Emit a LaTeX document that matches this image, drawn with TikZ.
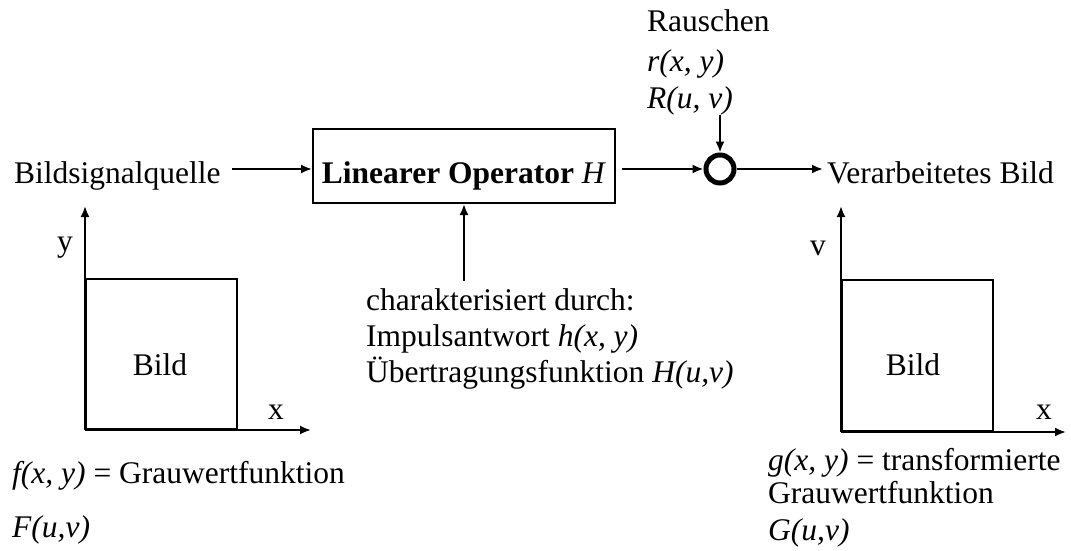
\documentclass[tikz,border=0pt]{standalone}
\usepackage{fontspec}
\setmainfont{Liberation Serif}
\usetikzlibrary{arrows.meta}
\begin{document}
\begin{tikzpicture}[x=1pt,y=-1pt,
  txt/.style={inner sep=0pt, font=\fontsize{31.5}{38}\selectfont},
  flow/.style={line width=2pt, -{Latex[length=11pt,width=9pt]}},
  frame/.style={draw, line width=2pt, inner sep=0pt}]
\useasboundingbox (0,0) rectangle (1071,551);

% signal chain
\node[txt, anchor=base west] (src) at (14,183) {Bildsignalquelle};
\node[frame, minimum width=302pt, minimum height=74pt] (op) at (464,166) {};
\node[txt, anchor=base] (optxt) at (464,183) {\textbf{Linearer Operator} \textit{H}};
\node[circle, draw, line width=5pt, minimum size=28pt, inner sep=0pt] (sum) at (720,169) {};
\node[txt, anchor=base west] (out) at (827,183) {Verarbeitetes Bild};

\draw[flow] ([xshift=11pt]src.east |- sum.west) -- (op.west |- sum.west);
\draw[flow] ([xshift=6pt]op.east |- sum.west) -- (sum.west);
\draw[flow, shorten >=4pt] (sum.east) -- (out.west |- sum.east);

% noise input
\node[txt, anchor=base west] (noise) at (647,32) {Rauschen};
\node[txt, anchor=base west] (noiser) at (647,72) {\textit{r(x, y)}};
\node[txt, anchor=base west] (noiseR) at (647,108) {\textit{R(u, v)}};
\draw[flow] (noiseR.south -| sum.north) -- (sum.north);

% operator description
\node[txt, anchor=base west] (c1) at (366,310) {charakterisiert durch:};
\node[txt, anchor=base west] (c2) at (366,346) {Impulsantwort \textit{h(x, y)}};
\node[txt, anchor=base west] (c3) at (366,382) {Übertragungsfunktion \textit{H(u,v)}};
\coordinate (hin) at (464,281);
\draw[flow] (hin) -- (hin |- op.south);

% input image
\node[frame, minimum width=151pt, minimum height=150pt] (imgL) at (161.5,354) {};
\node[txt] (imgLtxt) at (160,365) {Bild};
\draw[flow] (imgL.south west) -- ++(0,-224);
\draw[flow] (imgL.south west) -- ++(226,0);
\node[txt] (yL) at (65,248) {y};
\node[txt] (xL) at (276,412) {x};
\node[txt, anchor=base west] (fL) at (12,483) {\textit{f(x, y)} = Grauwertfunktion};
\node[txt, anchor=base west] (FL) at (12,537) {\textit{F(u,v)}};

% output image
\node[frame, minimum width=151pt, minimum height=151pt] (imgR) at (917.5,355.5) {};
\node[txt] (imgRtxt) at (913,365) {Bild};
\draw[flow] (imgR.south west) -- ++(0,-226);
\draw[flow] (imgR.south west) -- ++(225,0);
\node[txt] (vR) at (818,248) {v};
\node[txt] (xR) at (1044,412) {x};
\node[txt, anchor=base west] (gR) at (768,470) {\textit{g(x, y)} = transformierte};
\node[txt, anchor=base west] (gR2) at (768,503) {Grauwertfunktion};
\node[txt, anchor=base west] (GR) at (768,540) {\textit{G(u,v)}};
\end{tikzpicture}
\end{document}
